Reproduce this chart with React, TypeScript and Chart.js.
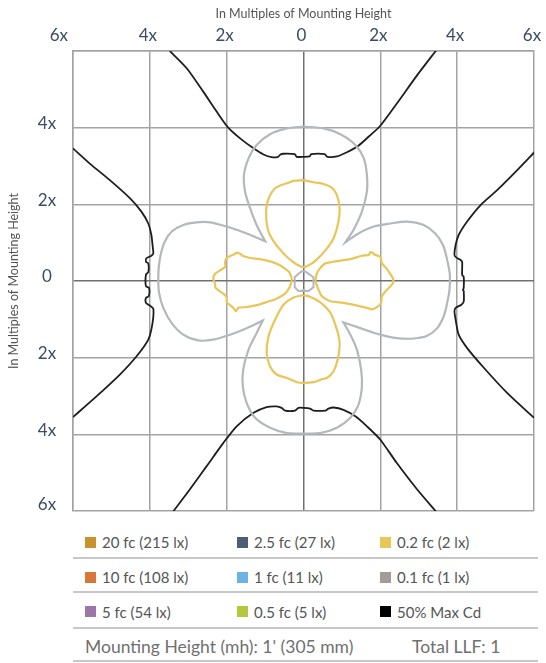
import React, { useEffect, useRef } from 'react';
import { Chart, registerables } from 'chart.js';

Chart.register(...registerables);

// ---- axis ticks ----
const xTickValues = [-6, -4, -2, 0, 2, 4, 6];
const xTickLabels = ['6x', '4x', '2x', '0', '2x', '4x', '6x'];
const yTickValues = [4, 2, 0, -2, -4, -6];
const yTickLabels = ['4x', '2x', '0', '2x', '4x', '6x'];
const axisTitle = 'In Multiples of Mounting Height';

// ---- 50% Max Cd (black) ----
const blackTop: number[][] = [
  [-3.48, 6.0], [-3.04, 5.55], [-2.61, 4.94], [-2.26, 4.42], [-1.96, 4.0], [-1.65, 3.72], [-1.3, 3.46],
  [-1.04, 3.3], [-0.83, 3.23], [-0.66, 3.24], [-0.6, 3.3], [-0.52, 3.32], [-0.23, 3.31], [-0.18, 3.24],
  [0, 3.24], [0.16, 3.25], [0.2, 3.31], [0.55, 3.31], [0.62, 3.24], [0.87, 3.25], [1.13, 3.36],
  [1.43, 3.53], [1.7, 3.77], [2.0, 4.05], [2.43, 4.63], [2.96, 5.37], [3.48, 6.05],
];
const blackBottom: number[][] = [
  [-3.39, -6.01], [-2.96, -5.44], [-2.52, -4.83], [-2.09, -4.23], [-1.74, -3.79], [-1.3, -3.44],
  [-0.96, -3.29], [-0.7, -3.27], [-0.57, -3.31], [-0.48, -3.38], [-0.22, -3.38], [-0.13, -3.31],
  [0, -3.31], [0.17, -3.33], [0.26, -3.38], [0.57, -3.38], [0.65, -3.33], [0.78, -3.3], [1.04, -3.36],
  [1.35, -3.53], [1.65, -3.79], [2.0, -4.14], [2.43, -4.75], [2.96, -5.44], [3.48, -6.05],
];
const blackLeft: number[][] = [
  [-6.0, 3.46], [-5.57, 3.07], [-5.04, 2.63], [-4.52, 2.16], [-4.22, 1.81], [-4.04, 1.5], [-3.96, 1.2],
  [-3.93, 0.94], [-3.91, 0.72], [-3.96, 0.66], [-4.09, 0.59], [-4.1, 0.5], [-4.04, 0.46], [-4.04, 0.23],
  [-4.1, 0.17], [-4.1, -0.14], [-4.02, -0.18], [-4.03, -0.4], [-4.1, -0.44], [-4.1, -0.57], [-4.0, -0.64],
  [-3.91, -0.72], [-3.93, -1.1], [-4.04, -1.53], [-4.35, -1.97], [-4.78, -2.44], [-5.39, -3.01], [-6.0, -3.55],
];
const blackRight: number[][] = [
  [6.04, 3.39], [5.57, 2.9], [5.04, 2.37], [4.61, 1.98], [4.26, 1.55], [4.04, 1.2], [3.96, 0.94],
  [3.93, 0.68], [3.98, 0.61], [4.09, 0.55], [4.13, 0.5], [4.13, 0.16], [4.17, 0.11], [4.17, -0.19],
  [4.15, -0.23], [4.17, -0.26], [4.17, -0.54], [4.11, -0.62], [3.96, -0.7], [3.93, -0.79], [3.96, -1.01],
  [4.04, -1.4], [4.26, -1.75], [4.7, -2.27], [5.3, -2.92], [6.0, -3.57],
];

// ---- 0.1 fc (gray) ----
const grayClover: number[][] = [
  [0, 4.03], [0.52, 3.98], [0.96, 3.83], [1.35, 3.55], [1.57, 3.2], [1.65, 2.77], [1.65, 2.33], [1.52, 1.81],
  [1.3, 1.33], [1.09, 1.01], [1.09, 1.01], [1.43, 1.24], [1.83, 1.42], [2.26, 1.5], [2.7, 1.55], [3.13, 1.46],
  [3.43, 1.24], [3.63, 0.94], [3.74, 0.55], [3.81, 0.16], [3.8, -0.23], [3.74, -0.57], [3.65, -0.92],
  [3.48, -1.23], [3.22, -1.43], [2.87, -1.5], [2.43, -1.49], [2.0, -1.4], [1.48, -1.23], [1.04, -1.08],
  [1.04, -1.08], [1.22, -1.4], [1.39, -1.79], [1.5, -2.31], [1.52, -2.75], [1.43, -3.23], [1.22, -3.57],
  [0.87, -3.83], [0.43, -3.97], [0, -3.98], [-0.43, -3.97], [-0.87, -3.83], [-1.26, -3.57], [-1.48, -3.18],
  [-1.58, -2.75], [-1.57, -2.31], [-1.43, -1.79], [-1.22, -1.36], [-1.06, -1.03], [-1.06, -1.03],
  [-1.48, -1.23], [-1.91, -1.4], [-2.35, -1.53], [-2.74, -1.55], [-3.13, -1.4], [-3.43, -1.1],
  [-3.65, -0.7], [-3.76, -0.31], [-3.78, 0.0], [-3.77, 0.33], [-3.72, 0.68], [-3.61, 1.03], [-3.43, 1.29],
  [-3.13, 1.46], [-2.78, 1.53], [-2.43, 1.53], [-2.0, 1.42], [-1.48, 1.24], [-1.0, 1.04], [-1.0, 1.04],
  [-1.22, 1.46], [-1.39, 1.9], [-1.52, 2.33], [-1.55, 2.77], [-1.43, 3.2], [-1.22, 3.55], [-0.87, 3.83],
  [-0.43, 3.98], [0, 4.03],
];
const grayCenter: number[][] = [
  [-0.09, 0.22], [-0.05, 0.25], [0.05, 0.25], [0.09, 0.22], [0.26, 0.1], [0.26, -0.16], [0.13, -0.26],
  [0.05, -0.26], [0.0, -0.23], [-0.05, -0.26], [-0.13, -0.26], [-0.23, -0.16], [-0.23, 0.1], [-0.09, 0.22],
];

// ---- 0.2 fc (yellow) ----
const yellowTop: number[][] = [
  [0, 2.63], [0.3, 2.57], [0.52, 2.53], [0.74, 2.43], [0.87, 2.24], [0.94, 1.9], [0.91, 1.55], [0.78, 1.11],
  [0.57, 0.8], [0.3, 0.52], [0.1, 0.39], [0, 0.36], [-0.1, 0.39], [-0.3, 0.52], [-0.52, 0.72], [-0.74, 0.98],
  [-0.91, 1.29], [-0.97, 1.63], [-0.96, 1.98], [-0.87, 2.24], [-0.74, 2.42], [-0.61, 2.49], [-0.43, 2.55],
  [-0.26, 2.61], [0, 2.63],
];
const yellowBottom: number[][] = [
  [0, -0.37], [0.17, -0.41], [0.43, -0.55], [0.7, -0.83], [0.87, -1.27], [0.94, -1.62], [0.89, -2.05],
  [0.78, -2.36], [0.61, -2.53], [0.48, -2.56], [0.26, -2.64], [0, -2.66], [-0.17, -2.64], [-0.43, -2.53],
  [-0.7, -2.44], [-0.87, -2.23], [-0.96, -1.88], [-0.91, -1.44], [-0.74, -1.01], [-0.52, -0.62],
  [-0.26, -0.43], [0, -0.37],
];
const yellowLeft: number[][] = [
  [-0.3, 0.06], [-0.37, 0.23], [-0.48, 0.32], [-0.61, 0.41], [-0.83, 0.5], [-1.13, 0.57], [-1.39, 0.6],
  [-1.57, 0.65], [-1.65, 0.71], [-1.74, 0.74], [-1.78, 0.71], [-1.87, 0.67], [-2.0, 0.6], [-2.04, 0.5],
  [-2.04, 0.37], [-2.17, 0.28], [-2.3, 0.19], [-2.35, 0.06], [-2.3, -0.07], [-2.3, -0.16], [-2.22, -0.24],
  [-2.09, -0.33], [-2.0, -0.42], [-2.0, -0.55], [-1.91, -0.63], [-1.83, -0.7], [-1.76, -0.79], [-1.7, -0.7],
  [-1.48, -0.68], [-1.22, -0.63], [-0.96, -0.55], [-0.7, -0.46], [-0.48, -0.33], [-0.37, -0.18],
  [-0.33, -0.07], [-0.3, 0.06],
];
const yellowRight: number[][] = [
  [0.31, 0.0], [0.34, 0.18], [0.43, 0.33], [0.57, 0.46], [0.87, 0.52], [1.22, 0.57], [1.52, 0.66],
  [1.7, 0.68], [1.74, 0.75], [1.8, 0.74], [1.83, 0.7], [2.0, 0.63], [2.04, 0.46], [2.16, 0.33], [2.26, 0.18],
  [2.33, 0.07], [2.33, -0.05], [2.28, -0.12], [2.17, -0.23], [2.04, -0.4], [2.02, -0.57], [1.91, -0.68],
  [1.78, -0.74], [1.65, -0.7], [1.48, -0.66], [1.04, -0.57], [0.7, -0.53], [0.48, -0.4], [0.37, -0.18],
  [0.31, 0.0],
];

// ---- legend ----
const legendLabels = [
  '20 fc (215 lx)', '2.5 fc (27 lx)', '0.2 fc (2 lx)',
  '10 fc (108 lx)', '1 fc (11 lx)', '0.1 fc (1 lx)',
  '5 fc (54 lx)', '0.5 fc (5 lx)', '50% Max Cd',
];
const legendColors = [
  '#c9922d', '#4d5d78', '#e8c65a',
  '#d9773a', '#6cb2e4', '#a29c99',
  '#9c76a6', '#b3c83e', '#000000',
];
const footerLeft = "Mounting Height (mh): 1' (305 mm)";
const footerRight = 'Total LLF: 1';

const BLACK = '#1e1e1e';
const GRAY = '#b3b8bd';
const YELLOW = '#e8c658';
const FONT = 'Lato, "Open Sans", sans-serif';

const toPts = (arr: number[][]) => arr.map(([x, y]) => ({ x, y }));

const labelPlugin = {
  id: 'axisLabels',
  afterDraw(chart: any) {
    const { ctx, chartArea } = chart;
    const xs = chart.scales.x;
    const ys = chart.scales.y;
    ctx.save();
    ctx.fillStyle = '#3b4c66';
    ctx.font = `17px ${FONT}`;
    ctx.textBaseline = 'middle';
    xTickValues.forEach((v, i) => {
      const px = xs.getPixelForValue(v);
      if (i === 0) {
        ctx.textAlign = 'right';
        ctx.fillText(xTickLabels[i], px - 5, chartArea.top - 15);
      } else {
        ctx.textAlign = 'center';
        ctx.fillText(xTickLabels[i], px - 2, chartArea.top - 15);
      }
    });
    ctx.textAlign = 'center';
    yTickValues.forEach((v, i) => {
      const py = ys.getPixelForValue(v);
      ctx.fillText(yTickLabels[i], chartArea.left - 26, py - (v === -6 ? 6 : 4));
    });
    ctx.fillStyle = '#555555';
    ctx.font = `12.5px ${FONT}`;
    ctx.fillText(axisTitle, (chartArea.left + chartArea.right) / 2, chartArea.top - 37);
    ctx.translate(14, (chartArea.top + chartArea.bottom) / 2);
    ctx.rotate(-Math.PI / 2);
    ctx.fillText(axisTitle, 0, 0);
    ctx.restore();
  },
};

export default function App() {
  const ref = useRef<HTMLCanvasElement>(null);
  useEffect(() => {
    if (!ref.current) return;
    const mk = (data: number[][], color: string, width = 2, tension = 0.3) => ({
      data: toPts(data),
      borderColor: color,
      backgroundColor: color,
      borderWidth: width,
      showLine: true,
      pointRadius: 0,
      tension,
      fill: false,
    });
    const chart = new Chart(ref.current, {
      type: 'scatter',
      data: {
        datasets: [
          mk(grayClover, GRAY, 2.2),
          mk(grayCenter, GRAY, 2, 0),
          mk(yellowTop, YELLOW, 2.2),
          mk(yellowBottom, YELLOW, 2.2),
          mk(yellowLeft, YELLOW, 2.2, 0.2),
          mk(yellowRight, YELLOW, 2.2, 0.2),
          mk(blackTop, BLACK, 1.8, 0.25),
          mk(blackBottom, BLACK, 1.8, 0.25),
          mk(blackLeft, BLACK, 1.8, 0.25),
          mk(blackRight, BLACK, 1.8, 0.25),
        ] as any,
      },
      options: {
        responsive: false,
        animation: false,
        events: [],
        layout: { padding: { left: 73, right: 12, top: 51, bottom: 9 } },
        plugins: { legend: { display: false }, tooltip: { enabled: false } },
        scales: {
          x: {
            type: 'linear',
            position: 'top',
            min: -6,
            max: 6,
            ticks: { display: false, stepSize: 2 },
            grid: {
              drawTicks: false,
              lineWidth: 1.5,
              color: (c: any) => (c.tick && c.tick.value === 0 ? '#707070' : '#a3a3a3'),
            },
            border: { display: true, color: '#a3a3a3', width: 1.5 },
          },
          y: {
            type: 'linear',
            min: -6,
            max: 6,
            ticks: { display: false, stepSize: 2 },
            grid: {
              drawTicks: false,
              lineWidth: 1.5,
              color: (c: any) => (c.tick && c.tick.value === 0 ? '#707070' : '#a3a3a3'),
            },
            border: { display: true, color: '#a3a3a3', width: 1.5 },
          },
        },
      } as any,
      plugins: [labelPlugin],
    });
    return () => chart.destroy();
  }, []);

  const rowCenters = [542, 577, 611.5];
  const lineYs = [558, 592, 628, 661];
  const colSwatchX = [85, 237, 380];

  return (
    <div style={{ position: 'absolute', left: 0, top: 0, width: 546, height: 663, background: '#fff', fontFamily: FONT, overflow: 'hidden' }}>
      <canvas ref={ref} width={546} height={520} style={{ position: 'absolute', left: 0, top: 0, width: 546, height: 520 }} />
      {legendLabels.map((lab, i) => {
        const r = Math.floor(i / 3);
        const c = i % 3;
        return (
          <div key={lab} style={{ position: 'absolute', left: colSwatchX[c], top: rowCenters[r] - 10, height: 20, display: 'flex', alignItems: 'center', whiteSpace: 'nowrap' }}>
            <span style={{ display: 'inline-block', width: 11, height: 11, background: legendColors[i], marginRight: 6 }} />
            <span style={{ fontSize: 15, color: '#555', lineHeight: '20px' }}>{lab}</span>
          </div>
        );
      })}
      {lineYs.map((y) => (
        <div key={y} style={{ position: 'absolute', left: 73, width: 465, top: y - 1, height: 2, background: '#c8c8c8' }} />
      ))}
      <div style={{ position: 'absolute', left: 85, top: 647 - 12, height: 24, lineHeight: '24px', fontSize: 17.5, color: '#707070', whiteSpace: 'nowrap' }}>{footerLeft}</div>
      <div style={{ position: 'absolute', left: 412, top: 647 - 12, height: 24, lineHeight: '24px', fontSize: 17.5, color: '#707070', whiteSpace: 'nowrap' }}>{footerRight}</div>
    </div>
  );
}
